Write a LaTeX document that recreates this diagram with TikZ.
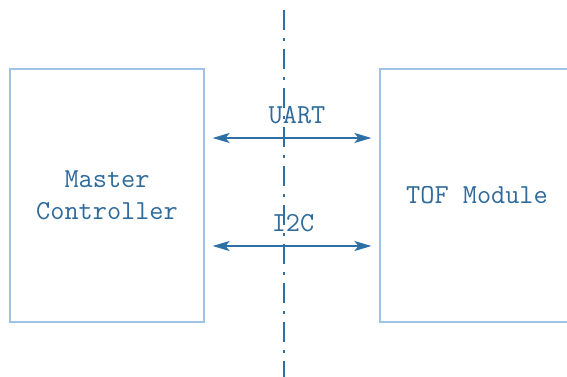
\documentclass[tikz,border=0pt]{standalone}
\usetikzlibrary{arrows.meta}
\definecolor{boxline}{HTML}{9DC3E6}
\definecolor{darkblue}{HTML}{2E6FA6}
\definecolor{txtblue}{HTML}{2F6A9A}
\begin{document}
\begin{tikzpicture}[x=1pt,y=-1pt,
  blockbox/.style={draw=boxline,line width=1.2pt,minimum width=194pt,minimum height=253pt,inner sep=0pt,
    font=\fontsize{27.5}{32}\selectfont\ttfamily,text=txtblue,align=center},
  lbl/.style={font=\fontsize{27.5}{32}\selectfont\ttfamily,text=txtblue,inner sep=0pt},
  biarrow/.style={draw=darkblue,line width=1.8pt,{Stealth[length=17pt,width=10pt,inset=4pt]}-{Stealth[length=17pt,width=10pt,inset=4pt]},shorten <=8pt,shorten >=8pt},
  axisline/.style={draw=darkblue,line width=1.5pt,dash pattern=on 20pt off 8pt on 3pt off 8pt}]
\useasboundingbox (0,0) rectangle (567,377);
\clip (0,0) rectangle (567,377);
\node[blockbox] (master) at (107,195.5) {Master\\Controller};
\node[blockbox] (tof) at (477,195.5) {TOF Module};
\coordinate (top) at (284,10);
\coordinate (bot) at (284,380);
\draw[axisline] (top) -- (bot);
\node[lbl] (uart) at (297,115) {UART};
\node[lbl] (i2c) at (293,223) {I2C};
\draw[biarrow] (master.east |- 0,138) -- (tof.west |- 0,138);
\draw[biarrow] (master.east |- 0,246) -- (tof.west |- 0,246);
\end{tikzpicture}
\end{document}
